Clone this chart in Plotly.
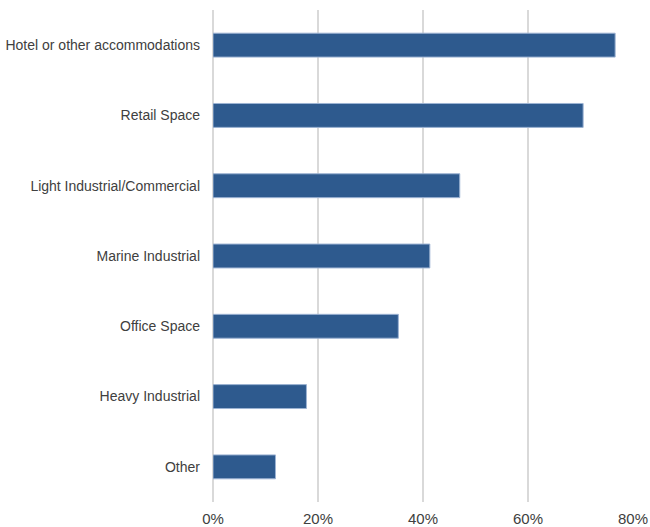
import plotly.graph_objects as go

categories = ["Hotel or other accommodations", "Retail Space", "Light Industrial/Commercial",
              "Marine Industrial", "Office Space", "Heavy Industrial", "Other"]
values = [0.766, 0.705, 0.470, 0.413, 0.353, 0.178, 0.119]
x_ticks = [0, 0.2, 0.4, 0.6, 0.8]

FONT = "Liberation Sans, Arial, sans-serif"

fig = go.Figure(go.Bar(
    y=categories, x=values, orientation="h",
    width=0.34,
    marker=dict(color="#2E5A8E", line=dict(color="#9DB3D3", width=1)),
))

fig.update_layout(
    width=650, height=527,
    margin=dict(l=213, r=17, t=10, b=25),
    paper_bgcolor="white", plot_bgcolor="white",
    font=dict(family=FONT, size=14, color="#404040"),
    showlegend=False,
)
fig.update_xaxes(
    range=[0, 0.8], tickvals=x_ticks, tickformat=".0%",
    showgrid=True, gridcolor="#D9D9D9", gridwidth=2,
    zeroline=True, zerolinecolor="#D9D9D9", zerolinewidth=2,
    showline=False, ticks="", ticklabelstandoff=6, automargin=False,
    tickfont=dict(size=15),
)
fig.update_yaxes(
    categoryorder="array", categoryarray=categories[::-1],
    showgrid=False, zeroline=False, showline=False, ticks="",
    ticklabelstandoff=12, automargin=False,
)

fig.write_html("out.html")
